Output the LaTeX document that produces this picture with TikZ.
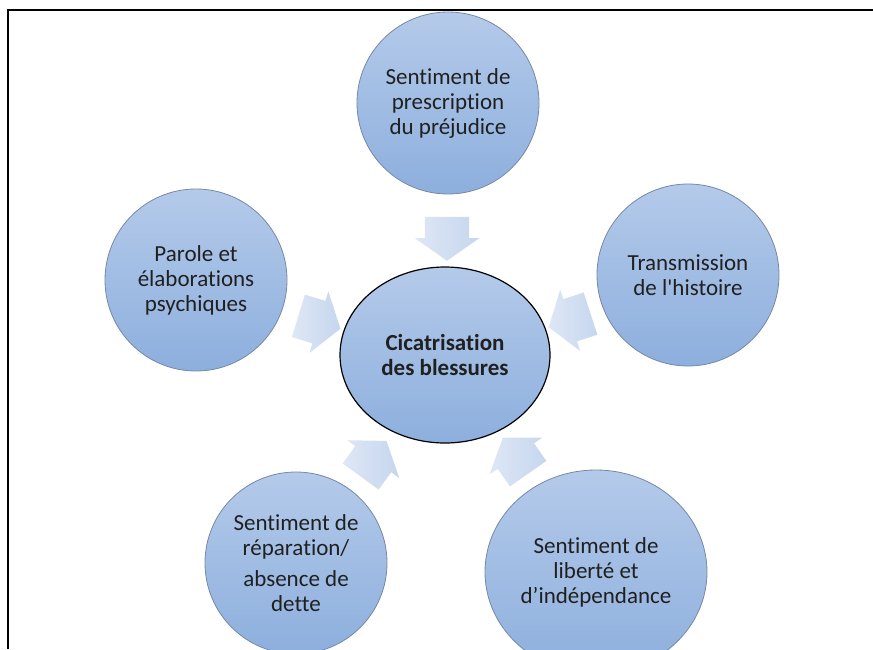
\documentclass[tikz,border=0pt]{standalone}
\usepackage{fontspec}
\setmainfont{Carlito}[Ligatures={TeX,NoCommon}]
\usepackage{xcolor}
\definecolor{bulleHaut}{RGB}{180,202,234}
\definecolor{bulleBas}{RGB}{141,175,221}
\definecolor{bord}{RGB}{118,136,165}
\definecolor{flecheA}{RGB}{222,231,245}
\definecolor{flecheB}{RGB}{198,214,238}
\definecolor{texte}{RGB}{32,32,32}
\usepackage{tikz}
\usetikzlibrary{shapes.geometric}
\usetikzlibrary{shapes.arrows}

\begin{document}
\begin{tikzpicture}[x=1pt,y=-1pt]
    \tikzstyle{every node}=[font=\fontsize{23}{25}\selectfont, text=texte, align=center]
    \tikzstyle{bulle}=[circle, draw=bord, line width=0.8pt, top color=bulleHaut, bottom color=bulleBas, minimum size=182pt, inner sep=0pt]
    \tikzstyle{fleche}=[single arrow, draw=none, left color=flecheA, right color=flecheB, minimum height=44pt, inner xsep=0pt, inner ysep=22pt, single arrow head extend=10pt, single arrow tip angle=110]
    \clip (0,0) rectangle (873,649);

    % cadre
    \draw [line width=2pt] (8,649) -- (8,10) -- (873,10);

    % bulles
    \node[bulle] (prescription) at (448,103) {Sentiment de\\prescription\\du préjudice};
    \node[bulle] (parole) at (196,280) {Parole et\\élaborations\\psychiques};
    \node[bulle] (transmission) at (688,275) {Transmission\\de l\textquotesingle histoire};
    \node[bulle] (reparation) at (296,563) {Sentiment de\\réparation/\\[6pt]absence de\\dette};
    \node[bulle, ellipse, minimum width=222pt, minimum height=204pt] (liberte) at (596,572) {Sentiment de\\liberté et\\d’indépendance};

    \node[ellipse, draw=black, line width=1.2pt, top color=bulleHaut, bottom color=bulleBas,
          minimum width=210pt, minimum height=176pt, inner sep=0pt, font=\fontsize{23}{25}\selectfont\bfseries]
          (cicatrisation) at (445,355) {Cicatrisation\\des blessures};

    % fleches
    \node[fleche, rotate=-90] (f1) at (447,231) {};
    \node[fleche, rotate=-17] (f2) at (312,320) {};
    \node[fleche, rotate=198] (f3) at (577,318) {};
    \node[fleche, rotate=54] (f4) at (369,465) {};
    \node[fleche, rotate=125] (f5) at (520,462) {};
\end{tikzpicture}
\end{document}
